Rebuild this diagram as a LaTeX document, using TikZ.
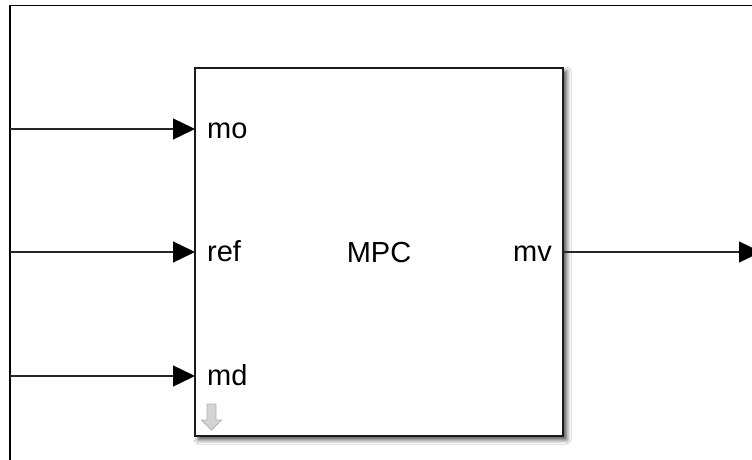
\documentclass[tikz,border=0pt]{standalone}
\usepackage{fontspec}
\setmainfont{Liberation Sans}
\usetikzlibrary{arrows.meta,shadows.blur}
\definecolor{wire}{HTML}{262626}
\definecolor{blk}{HTML}{1A1A1A}
\definecolor{icfill}{HTML}{D4D4D4}
\definecolor{icline}{HTML}{B4B4B4}
\tikzset{
  wirestyle/.style={draw=wire, line width=1.3pt, -{Triangle[length=22pt,width=21pt,color=black,fill=black]}},
  blockstyle/.style={draw=blk, line width=2.2pt, fill=white, minimum width=368pt, minimum height=368pt, inner sep=0pt,
     blur shadow={shadow xshift=3.5pt, shadow yshift=-3.5pt, shadow blur radius=4.5pt, shadow blur steps=8, shadow opacity=75}},
  lbl/.style={inner sep=0pt, font=\fontsize{29}{34}\selectfont}
}
\begin{document}
\begin{tikzpicture}[x=1pt,y=-1pt]
\clip (0,0) rectangle (752,460);
\fill[white] (0,0) rectangle (752,460);
% frame
\draw[black, line width=1.6pt] (10,480) -- (10,5.5) -- (780,5.5);
% block
\node[blockstyle] (mpc) at (379,252) {};
\node[lbl, anchor=base] (title) at (379,262) {MPC};
\coordinate (in1) at (195,129);
\coordinate (in2) at (195,252);
\coordinate (in3) at (195,376);
\coordinate (out1) at (563,252);
\coordinate (src1) at (10,129);
\coordinate (src2) at (10,252);
\coordinate (src3) at (10,376);
\coordinate (dst) at (761,252);
\node[lbl, anchor=base west] (lmo) at (207,138) {mo};
\node[lbl, anchor=base west] (lref) at (207,261) {ref};
\node[lbl, anchor=base west] (lmd) at (207,385) {md};
\node[lbl, anchor=base east] (lmv) at (552,261) {mv};
% wires
\draw[wirestyle] (src1) -- (in1);
\draw[wirestyle] (src2) -- (in2);
\draw[wirestyle] (src3) -- (in3);
\draw[wirestyle] (out1) -- (dst);
% down arrow icon
\draw[fill=icfill, draw=icline, line width=0.8pt]
  (207,404) -- (216,404) -- (216,420) -- (221.5,420) -- (211.5,430) -- (201.5,420) -- (207,420) -- cycle;
\end{tikzpicture}
\end{document}
